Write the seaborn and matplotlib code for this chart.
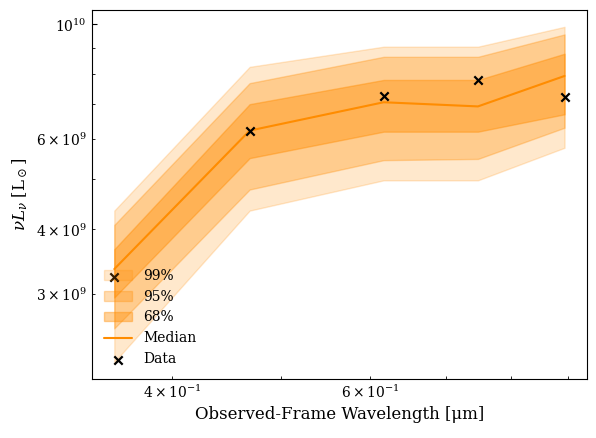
import numpy as np
import pandas as pd
import seaborn as sns
import matplotlib
matplotlib.use("Agg")
import matplotlib.pyplot as plt

# SDSS ugriz effective wavelengths (micron)
wavelength = [0.3551, 0.4686, 0.6166, 0.7480, 0.8932]

# observed luminosities
data_lum = [3.23e9, 6.22e9, 7.26e9, 7.80e9, 7.22e9]

# posterior model quantiles
median = [3.35e9, 6.22e9, 7.06e9, 6.93e9, 7.94e9]
lo_68 = [2.95e9, 5.50e9, 6.19e9, 6.19e9, 6.69e9]
hi_68 = [3.66e9, 7.00e9, 7.80e9, 7.80e9, 8.77e9]
lo_95 = [2.57e9, 4.78e9, 5.45e9, 5.48e9, 6.30e9]
hi_95 = [4.08e9, 7.69e9, 8.65e9, 8.65e9, 9.56e9]
lo_99 = [2.21e9, 4.35e9, 4.98e9, 4.98e9, 5.76e9]
hi_99 = [4.35e9, 8.27e9, 9.05e9, 9.05e9, 9.89e9]

sns.set_style("ticks", rc={"axes.edgecolor": "black", "text.color": "black",
                           "axes.labelcolor": "black", "xtick.color": "black",
                           "ytick.color": "black"})
plt.rcParams["font.family"] = ["DejaVu Serif"]
plt.rcParams["mathtext.fontset"] = "dejavuserif"
plt.rcParams["xtick.direction"] = "in"
plt.rcParams["ytick.direction"] = "in"

df = pd.DataFrame({"wl": wavelength, "median": median, "data": data_lum})

fig, ax = plt.subplots(figsize=(5.96, 4.38), dpi=100)
fig.subplots_adjust(left=0.154, right=0.985, top=0.977, bottom=0.135)

# credible bands, widest first
ax.fill_between(wavelength, lo_99, hi_99, color="darkorange", alpha=0.2, label="99%")
ax.fill_between(wavelength, lo_95, hi_95, color="darkorange", alpha=0.3, label="95%")
ax.fill_between(wavelength, lo_68, hi_68, color="darkorange", alpha=0.4, label="68%")

sns.lineplot(data=df, x="wl", y="median", color="darkorange", lw=1.5, label="Median", ax=ax)
sns.scatterplot(data=df, x="wl", y="data", marker="x", color="black", s=36,
                linewidth=1.6, label="Data", ax=ax, zorder=5)

ax.set_xscale("log")
ax.set_yscale("log")

ax.set_xlabel("Observed-Frame Wavelength [μm]", fontsize=12)
ax.set_ylabel(r"$\nu L_\nu$ [L$_\odot$]", fontsize=12)
ax.tick_params(axis="both", which="both", labelsize=10)

ax.legend(loc="lower left", frameon=False, fontsize=10)

plt.savefig("out.png", dpi=100)
